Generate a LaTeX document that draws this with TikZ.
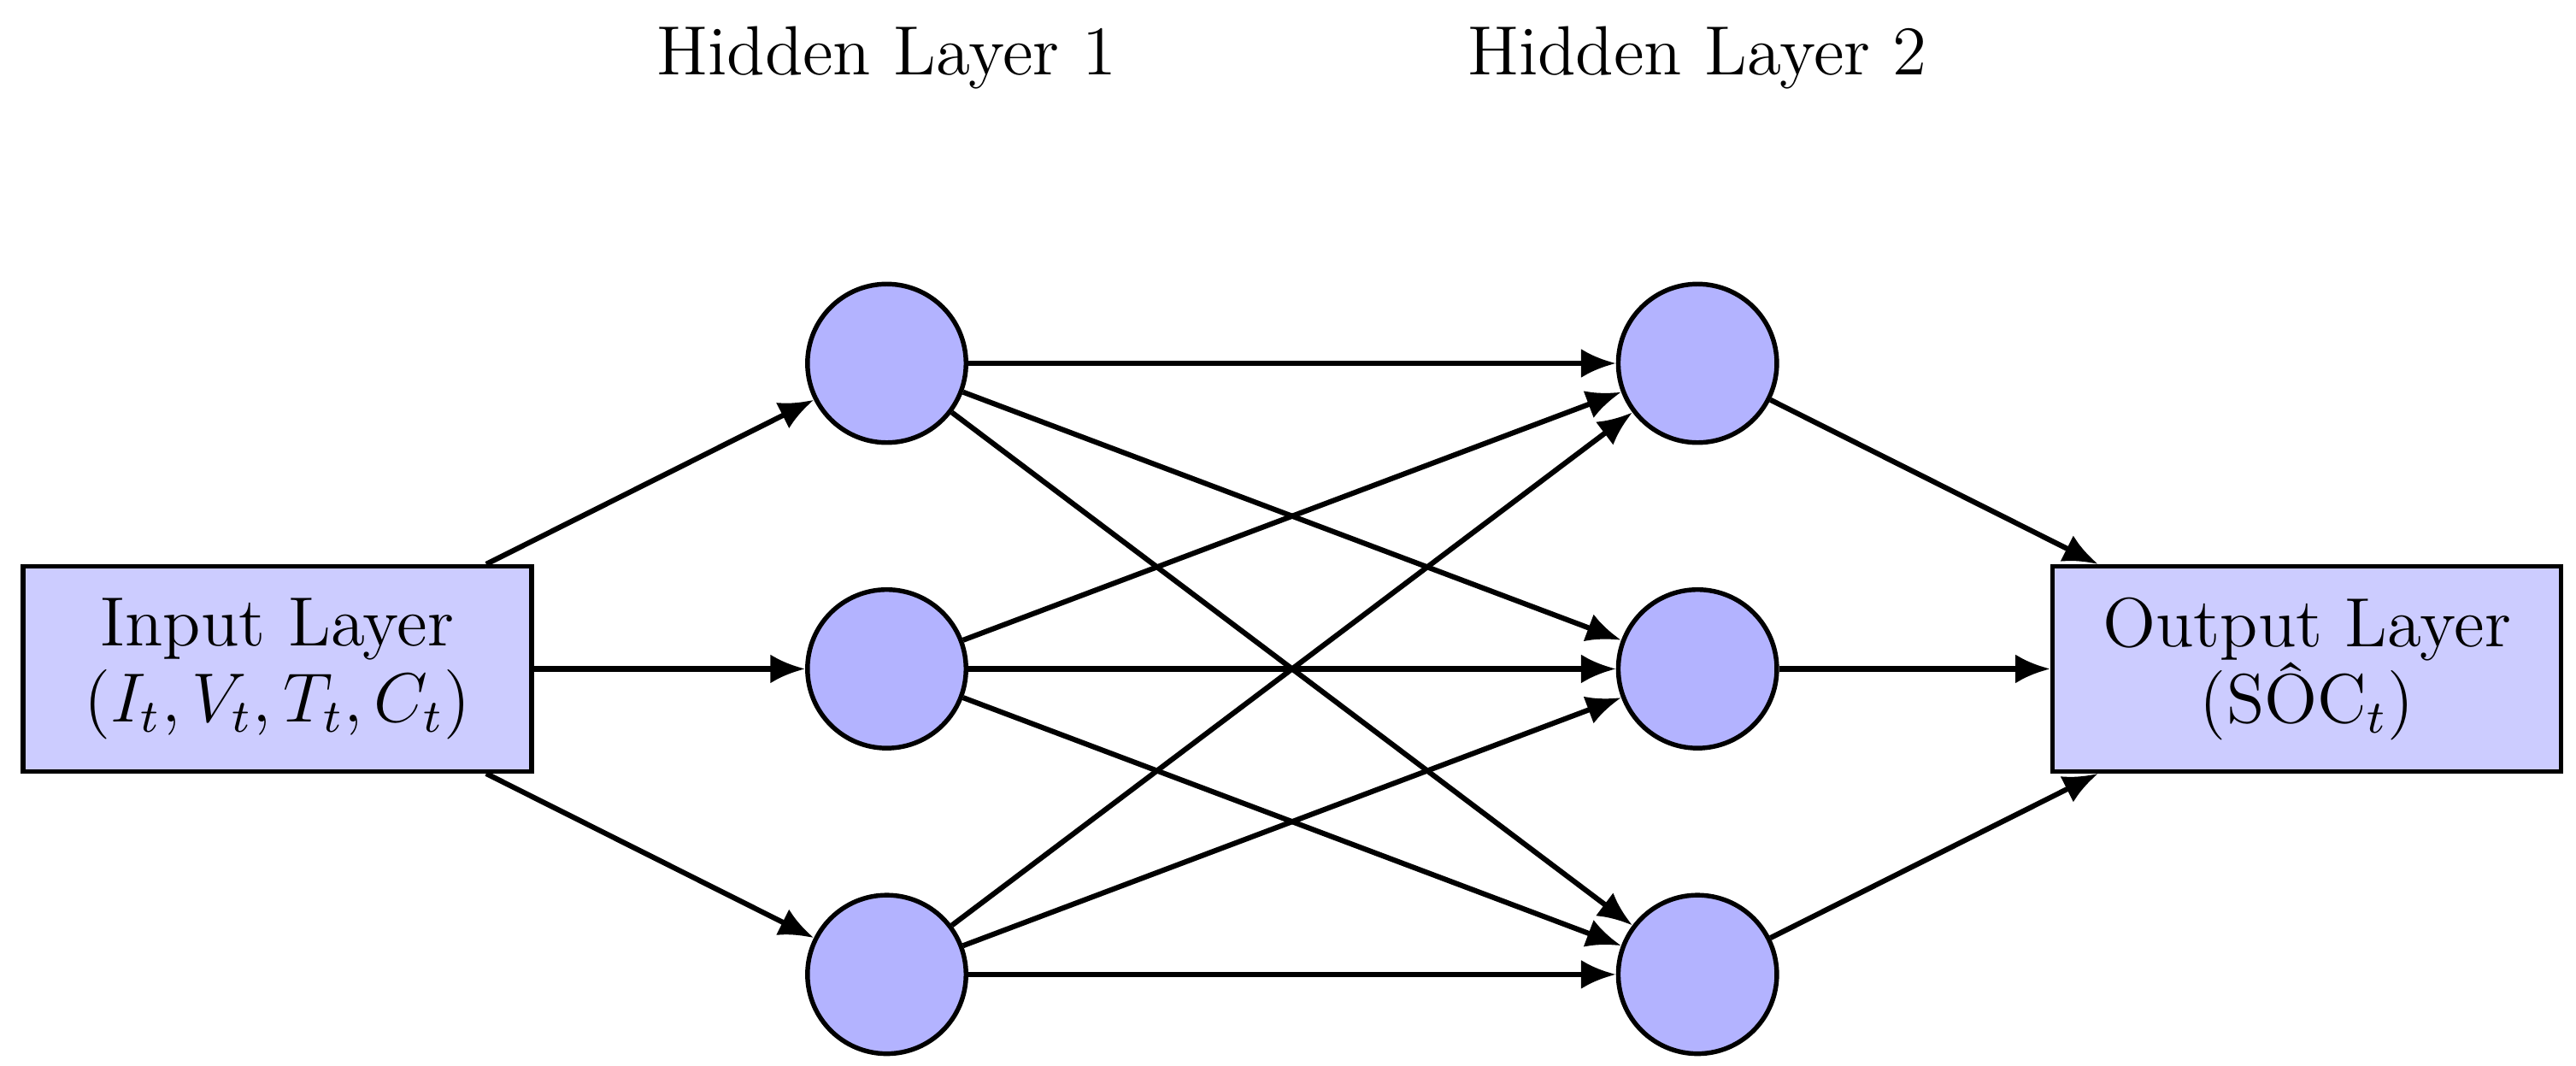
\documentclass[tikz,border=0pt]{standalone}
\usetikzlibrary{arrows.meta}
\begin{document}
\begin{tikzpicture}[
  neuron/.style={circle,draw,line width=0.8pt,fill={rgb,255:red,179;green,179;blue,255},minimum size=0.96cm,inner sep=0pt},
  layer/.style={rectangle,draw,line width=0.8pt,fill={rgb,255:red,204;green,204;blue,255},minimum width=3.08cm,minimum height=1.24cm,align=center,font=\fontsize{12}{13}\selectfont},
  title/.style={font=\fontsize{12}{14}\selectfont},
  conn/.style={-{Latex[length=6pt,width=5pt]},line width=0.9pt}]
\useasboundingbox (0,0) rectangle (15.6,6.45);
\node[layer] (in) at (1.68,2.40) {Input Layer\\$(I_t, V_t, T_t, C_t)$};
\node[layer] (out) at (13.97,2.40) {Output Layer\\(S\^{O}C$_t$)};
\node[neuron] (a1) at (5.37,4.25) {};
\node[neuron] (a2) at (5.37,2.40) {};
\node[neuron] (a3) at (5.37,0.55) {};
\node[neuron] (b1) at (10.28,4.25) {};
\node[neuron] (b2) at (10.28,2.40) {};
\node[neuron] (b3) at (10.28,0.55) {};
\node[title] (t1) at (5.37,6.10) {Hidden Layer 1};
\node[title] (t2) at (10.28,6.10) {Hidden Layer 2};
\foreach \a in {a1,a2,a3}{\draw[conn] (in) -- (\a);}
\foreach \a in {a1,a2,a3}{\foreach \b in {b1,b2,b3}{\draw[conn] (\a) -- (\b);}}
\foreach \b in {b1,b2,b3}{\draw[conn] (\b) -- (out);}
\end{tikzpicture}
\end{document}
